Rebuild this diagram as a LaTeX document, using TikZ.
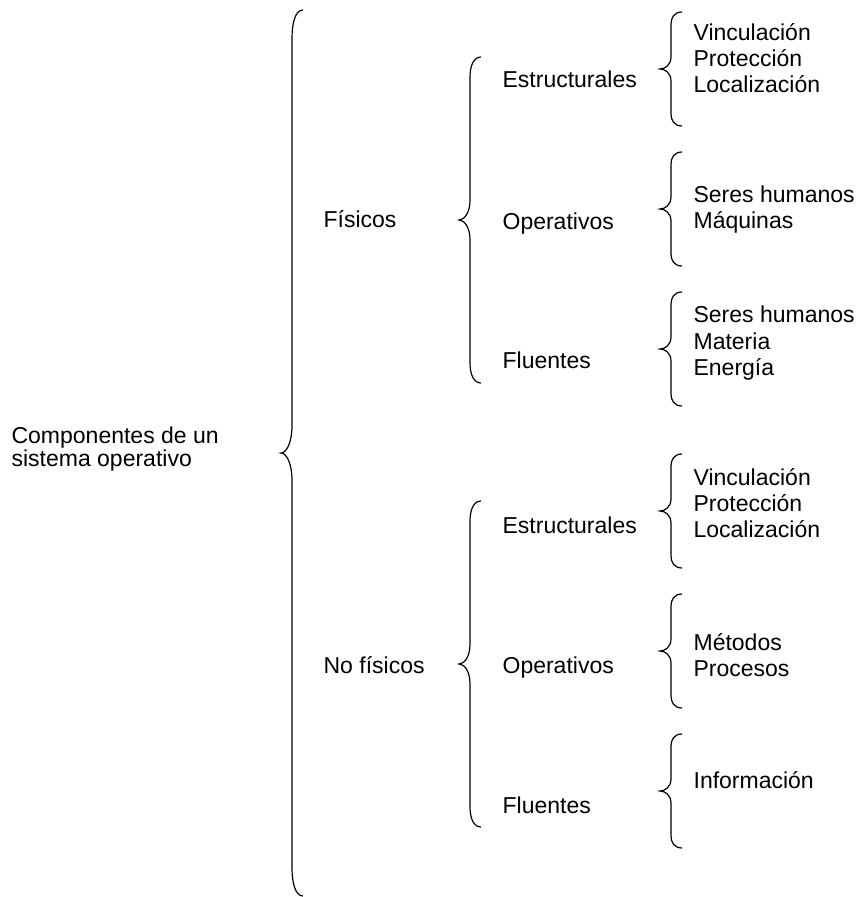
\documentclass[tikz,border=0pt]{standalone}
\usepackage{fontspec}
\setmainfont{Liberation Sans}
\usepackage{tikz}

\begin{document}
\begin{tikzpicture}[x=0.5pt,y=-0.5pt,semithick,
    every node/.style={inner sep=0pt,anchor=base west,align=left,
      font=\fontsize{11.5}{13}\selectfont},
    pics/llave/.style n args={2}{code={
      \draw (22,-#1) .. controls (14,-#1) and (11,{-#1+#2/2}) .. (11,{-#1+#2})
            -- (11,-#2) .. controls (11,{-#2/3}) and (5,0) .. (0,0)
            .. controls (5,0) and (11,{#2/3}) .. (11,#2)
            -- (11,{#1-#2}) .. controls (11,{#1-#2/2}) and (14,#1) .. (22,#1);
    }}]

  \useasboundingbox (0,0) rectangle (866,897);

  % base = last line of each text
  \node (comp)  at ( 11,466) [font=\fontsize{11.5}{11.5}\selectfont]
                             {Componentes de un\\sistema operativo};
  \node (fis)   at (323,228) {Físicos};
  \node (nofis) at (323,673) {No físicos};

  \node (est1)  at (502, 88) {Estructurales};
  \node (ope1)  at (502,230) {Operativos};
  \node (flu1)  at (502,368) {Fluentes};
  \node (est2)  at (502,533) {Estructurales};
  \node (ope2)  at (502,673) {Operativos};
  \node (flu2)  at (502,813) {Fluentes};

  \node (vin1)  at (693, 93) {Vinculación\\Protección\\Localización};
  \node (ser1)  at (693,229) {Seres humanos\\Máquinas};
  \node (ser2)  at (693,375) {Seres humanos\\Materia\\Energía};
  \node (vin2)  at (693,537) {Vinculación\\Protección\\Localización};
  \node (met)   at (693,676) {Métodos\\Procesos};
  \node (inf)   at (693,788) {Información};

  \pic at (281,453) {llave={443}{28}};
  \pic at (459,220) {llave={163}{20}};
  \pic at (459,664) {llave={163}{20}};
  \pic at (660, 69) {llave={57}{12}};
  \pic at (660,209) {llave={57}{12}};
  \pic at (660,349) {llave={57}{12}};
  \pic at (660,511) {llave={57}{12}};
  \pic at (660,651) {llave={57}{12}};
  \pic at (660,791) {llave={57}{12}};
\end{tikzpicture}
\end{document}
